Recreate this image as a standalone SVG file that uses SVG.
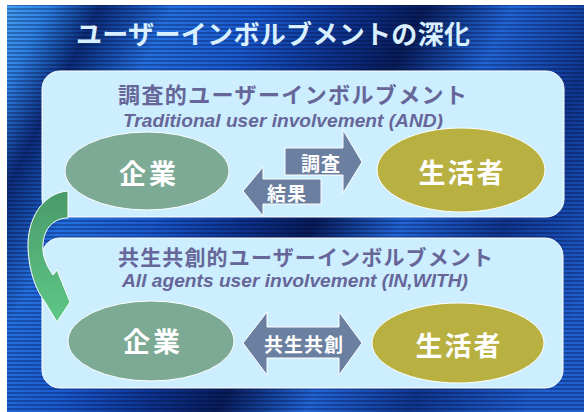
<svg xmlns="http://www.w3.org/2000/svg" width="584" height="412" viewBox="0 0 584 412">
  <defs>
    <linearGradient id="bg" x1="0" y1="0" x2="584" y2="300" gradientUnits="userSpaceOnUse">
      <stop offset="0" stop-color="#4aa6f4"/>
      <stop offset="0.07" stop-color="#2e82e6"/>
      <stop offset="0.14" stop-color="#0c2c78"/>
      <stop offset="0.24" stop-color="#2470e0"/>
      <stop offset="0.36" stop-color="#1a5ad0"/>
      <stop offset="0.48" stop-color="#0e3490"/>
      <stop offset="0.58" stop-color="#081c58"/>
      <stop offset="0.7" stop-color="#2266d8"/>
      <stop offset="0.84" stop-color="#10368f"/>
      <stop offset="1" stop-color="#2060d0"/>
    </linearGradient>
    <pattern id="stripes" width="8" height="4" patternUnits="userSpaceOnUse">
      <rect x="0" y="0" width="8" height="2" fill="#000830" opacity="0.3"/>
    </pattern>
    <linearGradient id="green" x1="0" y1="0" x2="0" y2="1">
      <stop offset="0" stop-color="#4a9a68"/>
      <stop offset="1" stop-color="#5ec888"/>
    </linearGradient>
    <style>
      .panel { fill: #cceeff; stroke: #ffffff; stroke-width: 1; }
      .title { font-family: "Noto Sans CJK JP", "Noto Sans", sans-serif; font-weight: bold; }
      .sub { font-family: "Liberation Sans", Arial, sans-serif; font-weight: bold; font-style: italic; fill: #666699; }
      .ell-green { fill: #7caa95; stroke: #ffffff; stroke-width: 1; }
      .ell-olive { fill: #b8b142; stroke: #ffffff; stroke-width: 1; }
      .arrow { fill: #6b7fa0; stroke: #ffffff; stroke-width: 1; }
      .wtext { fill: #ffffff; font-family: "Noto Sans CJK JP", "Noto Sans", sans-serif; font-weight: bold; text-anchor: middle; }
    </style>
  </defs>

  <rect x="0" y="0" width="584" height="412" fill="#ffffff"/>
  <rect x="7" y="5" width="577" height="407" fill="url(#bg)"/>
  <rect x="7" y="5" width="577" height="407" fill="url(#stripes)"/>

  <text class="title" x="76" y="44" font-size="26" fill="#d8f0ff" textLength="394" lengthAdjust="spacing">ユーザーインボルブメントの深化</text>

  <g id="panel1">
    <rect class="panel" x="42" y="71" width="522" height="146" rx="18" ry="18"/>
    <text class="title" x="118" y="103" font-size="22" fill="#666699" textLength="349" lengthAdjust="spacing">調査的ユーザーインボルブメント</text>
    <text class="sub" x="123" y="127" font-size="18.5" textLength="320" lengthAdjust="spacingAndGlyphs">Traditional user involvement (AND)</text>
  </g>

  <g id="panel2">
    <rect class="panel" x="42" y="238" width="521" height="150" rx="18" ry="18"/>
    <text class="title" x="118" y="265" font-size="21" fill="#666699" textLength="375" lengthAdjust="spacing">共生共創的ユーザーインボルブメント</text>
    <text class="sub" x="122" y="287" font-size="18.5" textLength="346" lengthAdjust="spacingAndGlyphs">All agents user involvement (IN,WITH)</text>
  </g>

  <g id="kigyo1">
    <ellipse class="ell-green" cx="147" cy="171" rx="82" ry="39"/>
    <text class="wtext" x="149" y="184" font-size="27" letter-spacing="3">企業</text>
  </g>

  <g id="seikatsusha1">
    <ellipse class="ell-olive" cx="461" cy="170" rx="84" ry="42"/>
    <text class="wtext" x="462" y="183" font-size="27" letter-spacing="2">生活者</text>
  </g>

  <g id="kigyo2">
    <ellipse class="ell-green" cx="151" cy="341" rx="83" ry="40"/>
    <text class="wtext" x="153" y="352" font-size="27" letter-spacing="3">企業</text>
  </g>

  <g id="seikatsusha2">
    <ellipse class="ell-olive" cx="458" cy="343" rx="86" ry="40"/>
    <text class="wtext" x="459" y="356" font-size="27" letter-spacing="2">生活者</text>
  </g>

  <g id="connectors">
    <g id="chousa">
      <polygon class="arrow" points="285,148 343,148 343,130 362,162 343,193 343,175 285,175"/>
      <text class="wtext" x="321" y="171" font-size="19" letter-spacing="1">調査</text>
    </g>
    <g id="kekka">
      <polygon class="arrow" points="243,191 263,167 263,179 321,179 321,204 263,204 263,216"/>
      <text class="wtext" x="287" y="201" font-size="19" letter-spacing="1">結果</text>
    </g>
    <g id="kyousei">
      <polygon class="arrow" points="243,343 267,312 267,327 339,327 339,312 362,343 339,375 339,358 267,358 267,375"/>
      <text class="wtext" x="304" y="352" font-size="19" letter-spacing="1">共生共創</text>
    </g>
    <path id="curve" d="M68,191 C42,193 27,220 28,248 C29,272 36,290 45,302 L57,322 L70,302 L57,270 L53,275 C46,265 42,255 43,244 C44,228 54,218 68,218 Z" fill="url(#green)" stroke="#ffffff" stroke-width="1"/>
  </g>
</svg>
